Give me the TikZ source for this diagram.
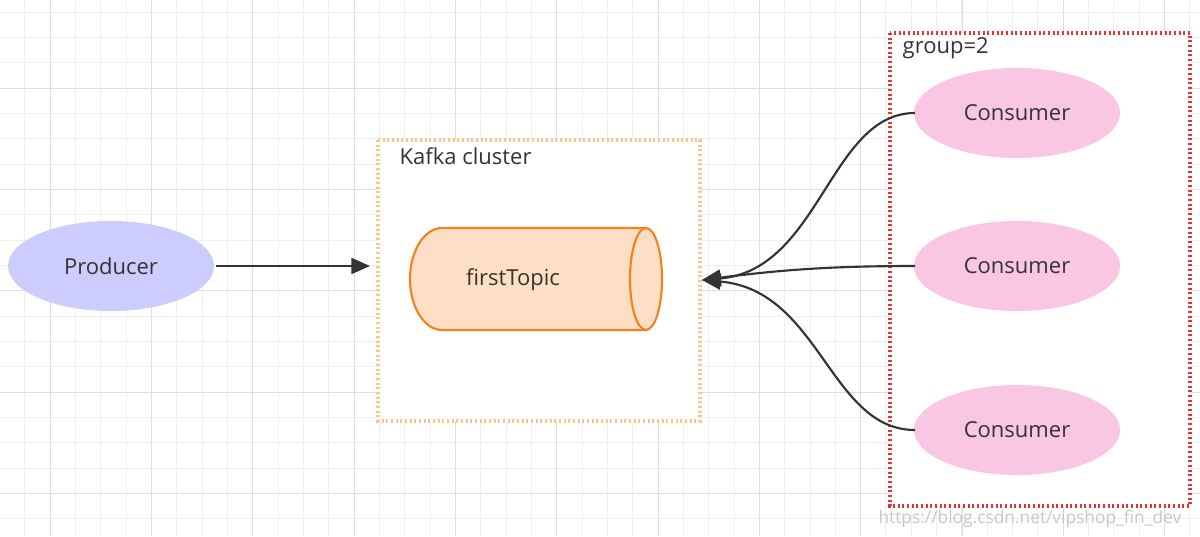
\documentclass[tikz,border=0pt]{standalone}
\usepackage{fontspec}
\setmainfont{Open Sans}
\usetikzlibrary{arrows.meta}
\definecolor{gridminor}{HTML}{EFEFEF}
\definecolor{gridmajor}{HTML}{DDDDDD}
\definecolor{prod}{HTML}{CCCCFF}
\definecolor{cons}{HTML}{F9C6E3}
\definecolor{topicfill}{HTML}{FCDFC4}
\definecolor{topicline}{HTML}{F5821F}
\definecolor{clusterline}{HTML}{FBC48B}
\definecolor{groupline}{HTML}{E53333}
\begin{document}
\begin{tikzpicture}[x=0.75pt,y=-0.75pt,
  lbl/.style={font=\fontsize{16.5}{19}\selectfont,text=black!80},
  conn/.style={draw=black!80,line width=1.6pt,-{Triangle[length=14pt,width=12pt]}}]
\useasboundingbox (0,0) rectangle (1200,536);
\fill[white] (0,0) rectangle (1200,536);
\foreach \i in {-1,...,46} \draw[gridminor,line width=0.6pt] ({50+25.33*\i},0) -- ({50+25.33*\i},536);
\foreach \i in {-3,...,18} \draw[gridminor,line width=0.6pt] (0,{88+25.33*\i}) -- (1200,{88+25.33*\i});
\foreach \i in {0,...,11} \draw[gridmajor,line width=0.7pt] ({50+101.33*\i},0) -- ({50+101.33*\i},536);
\foreach \i in {0,...,4} \draw[gridmajor,line width=0.7pt] (0,{88+101.33*\i}) -- (1200,{88+101.33*\i});
% cluster box
\fill[white] (378,140) rectangle (700,421);
\draw[clusterline,line width=2.4pt,dash pattern=on 1.5pt off 2pt] (378,140) rectangle (700,421);
\node[lbl,anchor=west] (clusterlbl) at (395,156) {Kafka cluster};
% group box
\fill[white] (890,33) rectangle (1190,506);
\draw[groupline,line width=2.4pt,dash pattern=on 1.5pt off 2pt] (890,33) rectangle (1190,506);
\node[lbl,anchor=west] (grouplbl) at (898,48) {group=2};
% producer
\fill[prod] (111,266) ellipse [x radius=103,y radius=45];
\node[lbl] (producer) at (111,266) {Producer};
\coordinate (prodR) at (216,266);
% topic cylinder
\draw[topicline,fill=topicfill,line width=1.6pt] (646,228) -- (442,228) arc[start angle=270,end angle=90,x radius=32,y radius=51] -- (646,330) arc[start angle=90,end angle=-90,x radius=16,y radius=51] -- cycle;
\draw[topicline,line width=1.6pt] (646,228) arc[start angle=270,end angle=90,x radius=16,y radius=51];
\node[lbl] (topic) at (513,280) {firstTopic};
\coordinate (topicR) at (702,280);
\coordinate (clusterL) at (370,266);
% consumers
\foreach \n/\y in {c1/113,c2/266,c3/430}{
  \fill[cons] (1017,\y) ellipse [x radius=103,y radius=45];
  \node[lbl] (\n) at (1017,\y) {Consumer};
  \coordinate (\n L) at (915,\y);
}
\draw[conn] (prodR) -- (clusterL);
\draw[conn] (c1L) .. controls (830,113) and (820,270) .. (topicR);
\draw[conn] (c2L) .. controls (830,266) and (780,270) .. (topicR);
\draw[conn] (c3L) .. controls (830,430) and (820,290) .. (topicR);
\node[anchor=east,font=\fontsize{13}{15}\selectfont,text=black!22] (wm) at (1186,519) {https://blog.csdn.net/vipshop\_fin\_dev};
\end{tikzpicture}
\end{document}
